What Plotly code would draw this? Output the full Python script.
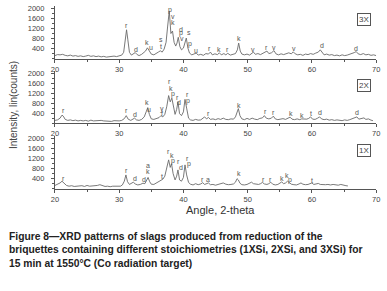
import plotly.graph_objects as go

W, H = 387, 291

# ---------------- data ----------------
angle_3x = [20.0, 20.4, 20.8, 21.2, 21.6, 22.0, 22.4, 22.8, 23.2, 23.6, 24.0, 24.4, 24.8, 25.2, 25.6, 26.0,
            26.4, 26.8, 27.2, 27.6, 28.0, 28.4, 28.8, 29.2, 29.6, 30.0, 30.4, 30.7, 30.95, 31.15, 31.35, 31.6,
            31.9, 32.2, 32.5, 32.8, 33.1, 33.5, 33.8, 34.1, 34.4, 34.7, 35.0, 35.4, 35.8, 36.1, 36.4, 36.7,
            37.0, 37.3, 37.55, 37.8, 38.05, 38.3, 38.55, 38.8, 39.0, 39.2, 39.45, 39.7, 40.0, 40.25, 40.45,
            40.7, 40.95, 41.3, 41.7, 42.0, 42.3, 42.7, 43.1, 43.5, 43.9, 44.2, 44.5, 44.9, 45.3, 45.6, 45.9,
            46.3, 46.6, 46.9, 47.3, 47.7, 48.1, 48.4, 48.6, 48.85, 49.1, 49.5, 49.9, 50.3, 50.6, 50.9, 51.2,
            51.6, 52.0, 52.4, 52.7, 53.0, 53.3, 53.7, 54.1, 54.4, 54.8, 55.2, 55.6, 56.0, 56.4, 56.8, 57.1,
            57.4, 57.8, 58.2, 58.6, 59.0, 59.4, 59.8, 60.2, 60.6, 61.0, 61.3, 61.6, 61.9, 62.3, 62.7, 63.1,
            63.5, 63.9, 64.3, 64.7, 65.1, 65.5, 65.9, 66.3, 66.6, 66.9, 67.2, 67.6, 68.0, 68.4, 68.8, 69.2,
            69.6, 70.0]
counts_3x = [120, 160, 150, 170, 130, 110, 140, 100, 120, 90, 110, 80, 100, 130, 90, 110,
             80, 100, 70, 90, 60, 80, 70, 100, 80, 110, 140, 250, 800, 1150, 750, 250,
             140, 180, 240, 160, 120, 170, 220, 300, 430, 320, 180, 150, 200, 260, 310, 260,
             380, 650, 1300, 1900, 1000, 1100, 650, 500, 620, 850, 480, 350, 420, 650, 820,
             420, 220, 150, 180, 220, 140, 170, 130, 200, 180, 260, 150, 190, 160, 230, 150,
             200, 150, 210, 140, 170, 200, 350, 620, 300, 180, 150, 180, 140, 200, 260, 170,
             200, 160, 220, 280, 300, 200, 230, 320, 190, 150, 190, 160, 200, 230, 190, 270,
             190, 150, 170, 130, 180, 160, 200, 170, 220, 260, 350, 230, 150, 180, 140, 160,
             120, 140, 110, 150, 120, 140, 170, 200, 240, 280, 190, 160, 200, 150, 170, 130,
             150, 120]

angle_2x = [20.0, 20.4, 20.8, 21.1, 21.3, 21.6, 22.0, 22.4, 22.8, 23.2, 23.6, 24.0, 24.4, 24.8, 25.2, 25.6,
            26.0, 26.4, 26.8, 27.2, 27.6, 28.0, 28.4, 28.8, 29.2, 29.6, 30.0, 30.4, 30.8, 31.1, 31.4, 31.8,
            32.1, 32.4, 32.7, 33.1, 33.5, 33.9, 34.2, 34.45, 34.7, 35.0, 35.4, 35.8, 36.2, 36.5, 36.8, 37.1,
            37.4, 37.7, 37.95, 38.2, 38.45, 38.7, 38.95, 39.15, 39.4, 39.7, 40.0, 40.25, 40.5, 40.8, 41.1,
            41.5, 41.9, 42.3, 42.7, 43.0, 43.3, 43.6, 43.9, 44.2, 44.6, 45.0, 45.4, 45.8, 46.2, 46.6, 47.0,
            47.4, 47.8, 48.1, 48.35, 48.55, 48.8, 49.1, 49.5, 49.9, 50.3, 50.7, 51.1, 51.5, 51.9, 52.3, 52.6,
            52.9, 53.3, 53.7, 54.0, 54.3, 54.7, 55.1, 55.5, 55.9, 56.3, 56.6, 56.9, 57.3, 57.7, 58.1, 58.4,
            58.8, 59.2, 59.5, 59.8, 60.1, 60.5, 60.9, 61.2, 61.5, 61.9, 62.3, 62.7, 63.1, 63.5, 63.9, 64.3,
            64.7, 65.1, 65.5, 65.9, 66.3, 66.7, 67.0, 67.3, 67.7, 68.1, 68.4, 68.8, 69.2, 69.5]
counts_2x = [110, 130, 200, 320, 280, 150, 110, 130, 100, 120, 90, 110, 90, 110, 80, 120,
             90, 100, 80, 110, 90, 80, 100, 70, 100, 80, 90, 110, 180, 300, 160, 110,
             160, 200, 130, 110, 150, 250, 450, 620, 350, 170, 150, 180, 220, 300, 250, 350,
             650, 1100, 850, 1000, 700, 350, 550, 850, 380, 300, 450, 950, 600, 200, 130,
             110, 150, 120, 130, 180, 250, 170, 230, 150, 170, 140, 180, 150, 200, 150, 140,
             170, 160, 250, 400, 580, 300, 170, 140, 190, 150, 200, 160, 140, 190, 210, 300,
             200, 170, 200, 280, 170, 140, 160, 180, 150, 190, 240, 160, 140, 170, 140, 170,
             150, 160, 190, 250, 160, 150, 200, 250, 170, 140, 160, 120, 140, 110, 130, 120,
             100, 130, 110, 140, 170, 200, 250, 160, 180, 210, 150, 170, 120, 100]

angle_1x = [20.0, 20.4, 20.8, 21.1, 21.4, 21.8, 22.2, 22.6, 23.0, 23.4, 23.8, 24.2, 24.6, 25.0, 25.4, 25.8,
            26.2, 26.6, 27.0, 27.4, 27.8, 28.2, 28.6, 29.0, 29.4, 29.8, 30.2, 30.5, 30.8, 31.05, 31.3, 31.6,
            31.9, 32.2, 32.5, 32.9, 33.3, 33.7, 34.0, 34.25, 34.5, 34.75, 35.0, 35.4, 35.8, 36.2, 36.5, 36.8,
            37.1, 37.4, 37.7, 37.95, 38.15, 38.4, 38.7, 38.95, 39.15, 39.4, 39.7, 40.0, 40.25, 40.5, 40.8,
            41.1, 41.5, 41.9, 42.3, 42.7, 43.0, 43.3, 43.6, 43.9, 44.2, 44.6, 45.0, 45.4, 45.8, 46.2, 46.6,
            47.0, 47.4, 47.8, 48.1, 48.35, 48.55, 48.8, 49.1, 49.5, 49.9, 50.3, 50.6, 50.9, 51.3, 51.7, 52.0,
            52.3, 52.6, 53.0, 53.3, 53.6, 53.9, 54.3, 54.7, 55.0, 55.3, 55.6, 55.9, 56.2, 56.5, 56.8, 57.2,
            57.6, 58.0, 58.3, 58.6, 59.0, 59.4, 59.7, 60.0, 60.3, 60.7, 61.0, 61.3, 61.7, 62.1, 62.5, 62.9,
            63.3, 63.7, 64.1, 64.5, 64.9, 65.3, 65.6]
counts_1x = [130, 170, 230, 300, 220, 130, 100, 120, 90, 110, 100, 120, 90, 130, 100, 110,
             90, 130, 160, 120, 90, 100, 80, 100, 90, 110, 100, 150, 300, 550, 280, 170,
             200, 260, 190, 150, 170, 220, 200, 350, 450, 280, 180, 170, 230, 300, 350, 380,
             500, 850, 1150, 850, 1000, 600, 350, 500, 750, 350, 300, 450, 950, 550, 250,
             180, 150, 200, 160, 190, 240, 170, 200, 230, 160, 170, 140, 170, 200, 230, 180,
             160, 170, 190, 260, 400, 350, 220, 160, 150, 170, 210, 260, 200, 180, 170, 200,
             250, 190, 170, 200, 260, 180, 150, 170, 210, 270, 200, 230, 300, 240, 180, 160,
             150, 190, 230, 180, 160, 170, 200, 230, 170, 180, 210, 170, 150, 160, 170, 150,
             170, 160, 140, 170, 130, 120, 110]

# peak labels: (angle, counts, phase letter)
labels_3x = [(31.2, 1330, "r"), (32.6, 380, "d"), (34.4, 660, "k"), (34.9, 460, "u"), (36.5, 760, "s"),
             (36.5, 470, "t"), (37.7, 2170, "r"), (37.9, 1920, "p"), (38.4, 1700, "v"), (38.4, 1430, "k"),
             (39.6, 1170, "d"), (39.6, 1030, "p"), (39.75, 800, "v"), (40.8, 1030, "s"), (41.1, 600, "p"),
             (42.0, 330, "u"), (44.1, 410, "r"), (45.6, 370, "k"), (46.9, 380, "r"), (48.6, 800, "k"),
             (50.85, 380, "v"), (52.9, 430, "r"), (54.15, 460, "v"), (57.2, 420, "v"), (61.5, 530, "d"),
             (66.8, 420, "d")]
labels_2x = [(21.3, 500, "r"), (31.1, 500, "r"), (32.4, 340, "d"), (34.4, 820, "k"), (34.6, 560, "u"),
             (36.6, 580, "y"), (36.6, 370, "f"), (37.8, 1660, "r"), (38.0, 1400, "k"), (38.35, 1170, "p"),
             (39.15, 1030, "r"), (39.35, 830, "d"), (40.7, 1130, "r"), (40.7, 900, "p"), (43.9, 380, "r"),
             (48.6, 700, "k"), (52.7, 450, "r"), (54.0, 420, "r"), (56.7, 380, "k"), (58.45, 320, "k"),
             (59.8, 400, "t"), (61.2, 420, "d"), (67.0, 420, "d")]
labels_1x = [(21.3, 420, "r"), (31.2, 740, "r"), (32.4, 400, "d"), (33.8, 370, "d"), (34.5, 910, "a"),
             (34.5, 700, "k"), (36.6, 500, "t"), (37.7, 1500, "r"), (38.2, 1310, "k"), (38.35, 1100, "p"),
             (39.3, 1070, "r"), (39.55, 830, "d"), (40.7, 1210, "r"), (40.9, 980, "p"), (43.0, 370, "r"),
             (43.9, 370, "a"), (48.6, 600, "k"), (52.4, 350, "r"), (53.6, 350, "r"), (55.3, 400, "k"),
             (56.2, 520, "k"), (56.6, 360, "p"), (60.0, 330, "t")]

panel_names = ["3X", "2X", "1X"]
x_ticks = [20, 30, 40, 50, 60, 70]
y_ticks = [400, 800, 1200, 1600, 2000]
caption = ("Figure 8\u2014XRD patterns of slags produced from reduction of the<br>"
           "briquettes containing different stoichiometries (1XSi, 2XSi, and 3XSi) for<br>"
           "15 min at 1550\u00b0C (Co radiation target)")

# ---------------- layout helpers ----------------
def fx(px):
    return px / W

def fy(py):
    return 1 - py / H

X0, X1 = 52, 380
panels = [(57, 4), (122, 69), (188, 135)]  # (zero line px, top px)
YMAX = 2100

series = [(angle_3x, counts_3x, labels_3x), (angle_2x, counts_2x, labels_2x), (angle_1x, counts_1x, labels_1x)]

fig = go.Figure()
axis_col = "#555555"
FONT = "Liberation Sans, Arial, sans-serif"
tick_font = dict(family=FONT, size=7.5, color="#444444")
annotations = []

for i, ((xs, ys, labs), (zero, top)) in enumerate(zip(series, panels)):
    n = "" if i == 0 else str(i + 1)
    fig.add_trace(go.Scatter(x=xs, y=ys, mode="lines", line=dict(color="#6a6a6a", width=0.9),
                             xaxis="x" + n, yaxis="y" + n, showlegend=False, hoverinfo="skip"))
    fig.update_layout(**{
        "xaxis" + n: dict(domain=[fx(X0), fx(X1)], range=[20, 70], anchor="y" + n,
                          tickvals=x_ticks, ticks="outside", ticklen=3, tickcolor=axis_col,
                          showline=True, linecolor=axis_col, linewidth=1, showgrid=False, zeroline=False,
                          tickfont=tick_font, minor=dict(dtick=5, tick0=20, ticks="outside", ticklen=2,
                                                         tickcolor=axis_col, showgrid=False)),
        "yaxis" + n: dict(domain=[fy(zero), fy(top)], range=[0, YMAX], anchor="x" + n,
                          tickvals=y_ticks, ticks="outside", ticklen=3, tickcolor=axis_col,
                          showline=True, linecolor=axis_col, linewidth=1, showgrid=False, zeroline=False,
                          tickfont=tick_font, ticklabelstandoff=5,
                          minor=dict(dtick=200, tick0=0, ticks="outside", ticklen=2,
                                     tickcolor=axis_col, showgrid=False)),
    })
    for (ax, ay, t) in labs:
        annotations.append(dict(x=ax, y=ay, xref="x" + n, yref="y" + n, text=t, showarrow=False,
                                font=dict(family=FONT, size=7, color="#555555"),
                                xanchor="center", yanchor="middle"))
    box_py = [18, 84, 150][i]
    annotations.append(dict(x=fx(368), y=fy(box_py), xref="paper", yref="paper", text=panel_names[i],
                            showarrow=False, font=dict(family=FONT, size=8, color="#444444"),
                            bordercolor="#555555", borderwidth=1, borderpad=1,
                            xanchor="center", yanchor="middle"))

annotations.append(dict(x=fx(9), y=fy(104), xref="paper", yref="paper", text="Intensity, lin(counts)",
                        textangle=-90, showarrow=False,
                        font=dict(family=FONT, size=10, color="#444444"),
                        xanchor="center", yanchor="middle"))
annotations.append(dict(x=fx(221), y=fy(209), xref="paper", yref="paper", text="Angle, 2-theta",
                        showarrow=False, font=dict(family=FONT, size=11, color="#333333"),
                        xanchor="center", yanchor="middle"))
annotations.append(dict(x=fx(3), y=fy(229), xref="paper", yref="paper", text=caption, align="left",
                        showarrow=False,
                        font=dict(family=FONT, size=10.3, color="#222222", weight="bold"),
                        xanchor="left", yanchor="top"))

fig.update_layout(width=W, height=H, margin=dict(l=0, r=0, t=0, b=0, pad=0), autosize=False,
                  paper_bgcolor="white", plot_bgcolor="white", annotations=annotations)

fig.write_html("out.html", config={"displayModeBar": False, "staticPlot": True},
               post_script="document.body.style.margin='0';document.body.style.padding='0';"
                           "document.body.style.overflow='hidden';")
